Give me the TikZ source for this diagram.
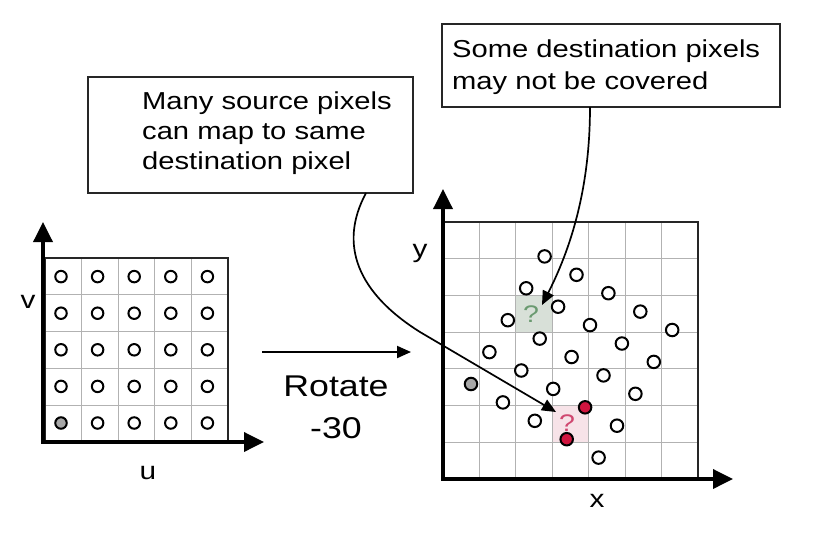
\documentclass[tikz,border=0pt]{standalone}
\usepackage{fontspec}
\setmainfont{Liberation Sans}
\newfontfamily\widefont[FakeStretch=1.19]{Liberation Sans}
\usetikzlibrary{arrows.meta}
\definecolor{srcgray}{HTML}{A8A8A8}
\definecolor{hitred}{HTML}{D0153F}
\definecolor{qgreen}{HTML}{6A9A70}
\definecolor{qred}{HTML}{D04870}
\definecolor{greencell}{HTML}{D8E0D8}
\definecolor{pinkcell}{HTML}{F7E3E8}
\begin{document}
\begin{tikzpicture}[x=1pt,y=-1pt,
  gridline/.style={draw=black!30, line width=0.9pt},
  framebox/.style={draw=black!85, line width=1.6pt},
  axis/.style={line width=3.6pt, line cap=rect, -{Triangle[length=20pt,width=19pt]}},
  pix/.style={circle, draw=black, line width=2pt, fill=white, minimum size=11.5pt, inner sep=0pt},
  dpix/.style={pix, minimum size=12.5pt},
  callout/.style={draw=black!85, line width=1.4pt, fill=white, inner sep=0pt},
  lbl/.style={font=\widefont\fontsize{24.5}{30}\selectfont, inner sep=0pt, align=left},
  axlbl/.style={font=\widefont\fontsize{25}{27}\selectfont, inner sep=0pt},
  qmark/.style={font=\widefont\fontsize{24}{26}\selectfont, inner sep=0pt},
  pointer/.style={line width=1.7pt, -{Triangle[length=14pt,width=12pt]}}
]
\useasboundingbox (0,0) rectangle (820,542);
\fill[white] (0,0) rectangle (820,542);

% ---------- left (source) grid ----------
\foreach \k in {1,...,4}{
  \draw[gridline] ({45+36.6*\k},258) -- ({45+36.6*\k},442);
  \draw[gridline] (45,{258+36.8*\k}) -- (228,{258+36.8*\k});
}
\draw[framebox] (45,258) rectangle (228,442);
\coordinate (oL) at (43,442);
\coordinate (vtip) at (43,222);
\coordinate (utip) at (264,442);
\draw[axis] (oL) -- (vtip);
\draw[axis] (oL) -- (utip);
\foreach \i in {0,...,4}{\foreach \j in {0,...,4}{
  \def\fc{white}
  \ifnum\i\j=0 \def\fc{srcgray}\fi
  \node[pix, fill=\fc] (s\i\j) at ({61+36.6*\i},{423-36.6*\j}) {};
}}
\node[axlbl] (lv) at (28,302) {v};
\node[axlbl] (lu) at (148,473) {u};

% ---------- rotate arrow ----------
\coordinate (rotA) at (262,352);
\coordinate (rotB) at (411,352);
\draw[pointer, line width=2pt] (rotA) -- (rotB);
\node[font=\widefont\fontsize{30}{42}\selectfont, inner sep=0pt, align=center] (rot) at (336,407) {Rotate\\-30};

% ---------- right (destination) grid ----------
\fill[greencell] (515.9,295.4) rectangle (552.3,332.1);
\fill[pinkcell] (552.3,405.6) rectangle (588.7,442.3);
\foreach \k in {1,...,6}{
  \draw[gridline] ({443+36.43*\k},222) -- ({443+36.43*\k},479);
  \draw[gridline] (443,{222+36.71*\k}) -- (698,{222+36.71*\k});
}
\draw[framebox] (443,222) rectangle (698,479);
\coordinate (oR) at (443,479);
\coordinate (ytip) at (443,189);
\coordinate (xtip) at (733,479);
\draw[axis] (oR) -- (ytip);
\draw[axis] (oR) -- (xtip);
\node[axlbl] (ly) at (420,253) {y};
\node[axlbl] (lx) at (597,501) {x};

\node[qmark, text=qgreen] (qG) at (531,314) {?};
\node[qmark, text=qred] (qR) at (567,423) {?};

\foreach \i in {0,...,4}{\foreach \j in {0,...,4}{
  \def\fc{white}
  \ifnum\i\j=0 \def\fc{srcgray}\fi
  \ifnum\i\j=31 \def\fc{hitred}\fi
  \ifnum\i\j=30 \def\fc{hitred}\fi
  \node[dpix, fill=\fc] (d\i\j) at ({471+31.9*\i+18.4*\j},{384+18.4*\i-31.9*\j}) {};
}}

% ---------- callouts ----------
\node[callout, minimum width=325pt, minimum height=116pt] (boxA) at (250.5,135) {};
\node[lbl, anchor=west] (txtA) at (142,133) {Many source pixels\\can map to same\\destination pixel};
\node[callout, minimum width=338pt, minimum height=83pt] (boxB) at (611,65.5) {};
\node[lbl, font=\widefont\fontsize{24.5}{32}\selectfont, anchor=west] (txtB) at (452,67) {Some destination pixels\\may not be covered};

\coordinate (aS) at (366,193);
\coordinate (aM) at (420,332);
\coordinate (tipA) at (556,412);
\draw[pointer] (aS) .. controls (338,245) and (358,293) .. (aM) -- (tipA);

\coordinate (bS) at (590,107);
\coordinate (tipB) at (542,305);
\draw[pointer] (bS) .. controls (590,190) and (570,250) .. (tipB);
\end{tikzpicture}
\end{document}
